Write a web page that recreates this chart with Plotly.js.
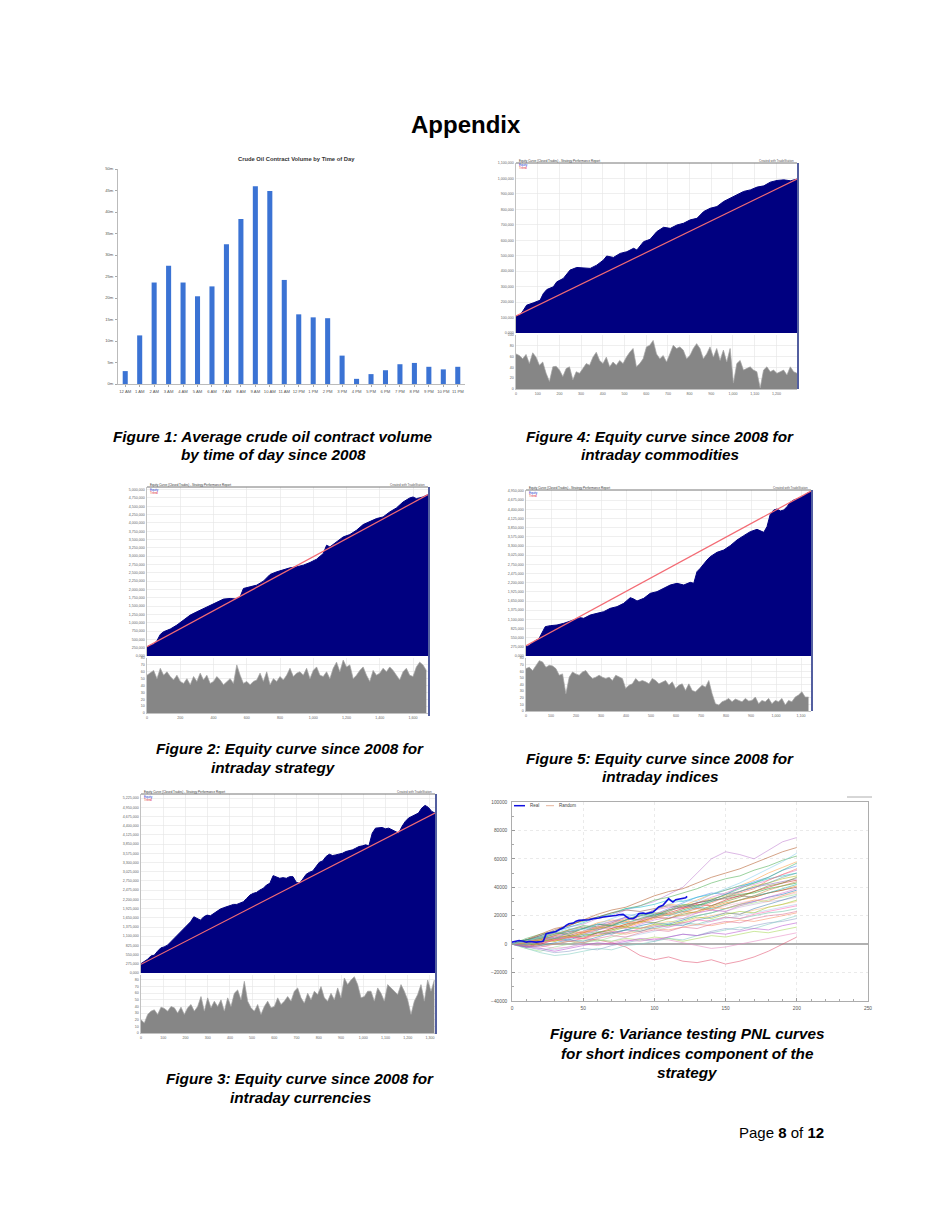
<!DOCTYPE html>
<html><head><meta charset="utf-8">
<script src="https://cdn.plot.ly/plotly-3.0.1.min.js"></script>
<style>html,body{margin:0;padding:0;background:#fff}#page{width:936px;height:1212px}</style>
</head><body><div id="page"></div>
<script>
// ================= DATA =================
// Figure 1
const hourLabels = ['12 AM','1 AM','2 AM','3 AM','4 AM','5 AM','6 AM','7 AM','8 AM','9 AM','10 AM','11 AM','12 PM','1 PM','2 PM','3 PM','4 PM','5 PM','6 PM','7 PM','8 PM','9 PM','10 PM','11 PM'];
const crudeVolume = [3.0,11.3,23.6,27.5,23.6,20.4,22.7,32.5,38.4,46.0,44.9,24.2,16.2,15.5,15.3,6.6,1.2,2.3,3.2,4.6,4.9,4.0,3.4,4.0];
const volumeTickVals = [0,5,10,15,20,25,30,35,40,45,50];
const volumeTickText = ['0m','5m','10m','15m','20m','25m','30m','35m','40m','45m','50m'];

// Figure 4 (commodities) equity, thousands
const commTrade = [0,18,34,49,80,111,126,142,172,188,218,249,280,311,342,372,403,418,449,480,511,542,557,588,618,649,680,711,742,772,803,834,865,895,926,957,988,1018,1049,1080,1111,1142,1172,1203,1234,1265,1295];
const commEquity = [110,115,147,180,195,212,255,281,299,331,353,407,424,422,418,439,472,498,489,515,526,548,537,591,606,656,684,677,699,710,732,742,786,807,818,851,872,894,916,926,944,952,976,987,991,985,996];
const commTrendX = [0,1295];
const commTrendY = [110,996];
const commLower = [65,62,56,64,47,67,59,44,50,29,14,41,42,35,23,38,41,17,32,29,38,47,44,59,68,53,47,59,41,50,44,53,47,59,68,75,41,47,56,78,81,90,65,56,62,50,65,81,75,78,72,56,62,75,84,75,56,65,78,59,75,53,72,50,75,11,47,53,35,38,41,35,32,2,35,41,32,35,29,32,35,26,41,32,29];

// Figure 2 (strategy)
const stratTrade = [0,20,40,60,80,100,140,180,220,260,300,340,380,420,460,500,540,560,580,620,660,700,740,780,820,860,900,940,980,1020,1060,1080,1100,1140,1180,1220,1260,1300,1340,1380,1420,1460,1500,1540,1580,1600,1620,1660,1690];
const stratEquity = [280,310,350,460,650,730,810,930,1080,1230,1330,1430,1530,1630,1710,1730,1710,1780,2030,2080,2130,2250,2450,2530,2600,2650,2680,2730,2810,2910,3080,3330,3280,3430,3580,3650,3780,3950,4030,4130,4180,4330,4450,4630,4750,4780,4730,4780,4850];
const stratTrendX = [0,1690];
const stratTrendY = [280,4850];
const stratLower = [55,58,62,50,65,55,60,53,48,55,46,43,50,41,53,46,58,48,55,43,46,53,48,41,46,50,43,70,55,43,46,41,46,48,58,46,60,41,50,46,53,48,55,65,53,58,60,55,65,50,62,67,55,53,60,50,65,74,60,77,67,70,50,55,62,67,55,46,62,55,58,65,60,67,62,55,48,60,65,55,53,67,74,70,62];

// Figure 5 (indices)
const idxTrade = [0,11,24,37,51,64,77,97,124,151,177,204,217,231,257,284,311,337,364,391,404,417,431,444,471,497,524,551,577,604,631,657,671,684,697,724,737,764,791,817,844,871,897,924,951,964,977,991,1004,1017,1031,1044,1057,1071,1084,1097,1111,1124,1140];
const idxEquity = [280,310,380,460,510,680,880,910,930,980,1050,1130,1150,1130,1230,1280,1330,1430,1480,1580,1680,1750,1710,1650,1730,1880,1930,2030,2130,2180,2130,2210,2180,2530,2630,2880,2980,3110,3180,3310,3480,3610,3730,3800,3710,3880,4250,4380,4410,4350,4380,4480,4610,4680,4710,4750,4810,4880,4930];
const idxTrendX = [0,1140];
const idxTrendY = [310,4950];
const idxLower = [64,66,61,69,76,74,66,69,68,64,54,56,26,51,59,56,54,59,61,54,49,51,54,51,49,51,46,54,51,49,34,39,41,49,44,46,44,41,49,46,41,44,46,39,44,34,39,41,31,41,31,29,34,39,36,46,26,11,9,14,16,19,14,18,16,14,19,15,16,21,11,16,14,19,11,16,14,19,9,16,14,21,24,29,21,21];

// Figure 3 (currencies), evenly sampled over 0..1323 trades
const fxEquity = [280,350,410,510,530,650,750,780,830,930,1030,1130,1230,1350,1430,1530,1680,1630,1580,1680,1730,1710,1780,1830,1910,1950,1980,2030,2050,2050,2080,2130,2230,2330,2380,2410,2480,2530,2630,2680,2910,2880,2830,2850,2830,2880,2880,2710,2680,2810,2950,3010,3050,3180,3310,3350,3480,3550,3510,3530,3550,3580,3630,3650,3680,3730,3780,3800,3830,3800,4180,4330,4350,4350,4310,4330,4280,4230,4180,4380,4530,4630,4680,4710,4780,4930,5010,4950,4830,4780];
const fxTrendX = [0,1323];
const fxTrendY = [260,4780];
const fxLower = [20,15,28,33,35,28,39,37,33,40,38,30,39,28,38,43,33,40,55,33,53,38,48,40,50,33,53,40,60,65,50,78,48,38,33,43,28,40,48,38,40,53,43,48,55,48,63,68,53,45,60,50,63,58,70,53,48,60,50,68,53,83,73,80,85,73,53,55,63,63,48,68,60,48,73,68,63,58,73,63,50,28,48,58,73,48,80,63,80];

// Figure 6 (variance testing)
const realX = [0,3,5,8,10,12,15,17,21,22,24,26,29,31,33,36,38,40,43,45,47,50,52,54,57,59,61,64,66,68,71,73,75,78,80,82,85,87,89,92,94,96,99,101,103,106,107,108,110,112,113,115,118,120,122,123];
const realY = [1400,2100,2600,2100,1400,1900,1400,1400,1900,2100,7300,7800,8500,8900,10100,11500,13200,14300,14800,16200,16700,16700,17200,17200,17900,17900,18400,19100,19500,19500,20000,20200,20700,20900,19500,18100,17900,19100,21400,21900,21400,21900,22600,24200,26100,27300,28500,29600,32000,30300,29600,31300,32000,32700,32700,33600];
const randomX = [0,10,20,30,40,50,60,70,80,90,100,110,120,130,140,150,160,170,180,190,200];
const randomRuns = [
 [0,-2000,1000,3000,2000,4000,3000,1000,-2000,-8000,-11000,-9000,-12000,-13000,-11000,-14000,-12000,-9000,-5000,0,5000],
 [0,3000,6000,9000,12000,14000,18000,20000,24000,27000,30000,35000,40000,50000,60000,65000,63000,60000,66000,72000,75000],
 [0,4000,7000,9000,14000,16000,19000,22000,25000,27000,31000,33000,36000,39000,43000,46000,48000,52000,55000,59000,62000],
 [0,1000,5000,8000,7000,11000,15000,17000,16000,20000,24000,28000,27000,31000,35000,38000,41000,45000,50000,54000,58000],
 [0,3000,2000,6000,10000,12000,11000,15000,19000,22000,21000,25000,29000,33000,36000,35000,40000,44000,47000,52000,55000],
 [0,-1000,2000,5000,8000,11000,14000,13000,17000,20000,24000,26000,25000,29000,33000,36000,40000,42000,45000,49000,52000],
 [0,2000,6000,9000,12000,15000,19000,21000,25000,26000,28000,31000,30000,33000,35000,38000,41000,43000,46000,48000,50000],
 [0,1000,4000,3000,6000,9000,12000,11000,14000,18000,20000,23000,27000,29000,32000,34000,37000,41000,43000,46000,48000],
 [0,3000,5000,8000,6000,9000,13000,16000,19000,17000,20000,24000,26000,29000,31000,35000,37000,40000,42000,44000,46000],
 [0,-2000,0,3000,5000,4000,8000,11000,14000,16000,19000,22000,25000,28000,27000,31000,34000,37000,40000,43000,45000],
 [0,2000,4000,7000,10000,13000,12000,14000,17000,20000,22000,21000,24000,27000,30000,33000,35000,36000,39000,41000,43000],
 [0,1000,3000,2000,5000,8000,10000,13000,12000,15000,18000,21000,23000,22000,26000,29000,31000,33000,36000,38000,41000],
 [0,3000,6000,10000,13000,17000,19000,22000,24000,23000,25000,27000,26000,29000,31000,32000,34000,33000,36000,38000,40000],
 [0,0,2000,4000,3000,6000,8000,7000,10000,13000,15000,14000,17000,20000,22000,25000,28000,30000,33000,35000,38000],
 [0,2000,1000,4000,7000,9000,12000,14000,17000,19000,18000,21000,23000,25000,24000,27000,29000,31000,32000,34000,36000],
 [0,-3000,-5000,-2000,0,3000,2000,5000,8000,10000,13000,15000,18000,20000,22000,25000,27000,29000,31000,33000,35000],
 [0,1000,4000,6000,9000,11000,14000,16000,15000,17000,19000,18000,20000,22000,24000,23000,26000,28000,30000,31000,33000],
 [0,2000,5000,4000,7000,9000,8000,10000,12000,11000,14000,16000,15000,18000,20000,22000,21000,24000,26000,28000,30000],
 [0,-1000,-3000,-4000,-2000,1000,3000,2000,5000,7000,9000,12000,14000,13000,16000,18000,20000,22000,24000,26000,28000],
 [0,1000,3000,5000,4000,7000,9000,8000,10000,12000,11000,13000,15000,14000,17000,19000,18000,20000,22000,23000,25000],
 [0,2000,4000,3000,5000,4000,6000,8000,7000,9000,11000,10000,12000,14000,13000,15000,17000,16000,18000,20000,22000],
 [0,-2000,-4000,-6000,-5000,-3000,-4000,-1000,1000,3000,2000,5000,7000,6000,9000,11000,10000,13000,15000,16000,18000],
 [0,1000,-1000,0,2000,1000,3000,2000,4000,3000,5000,4000,2000,4000,6000,5000,7000,9000,8000,10000,12000],
 [0,-2000,-1000,-3000,-2000,0,-1000,1000,3000,2000,4000,3000,1000,-1000,-3000,-2000,0,2000,4000,6000,8000],
 [0,3000,7000,11000,13000,17000,21000,24000,26000,30000,34000,37000,39000,43000,47000,50000,53000,57000,61000,65000,68000],
 [0,-3000,-6000,-8000,-7000,-5000,-3000,-4000,-1000,0,2000,4000,3000,6000,8000,10000,12000,11000,14000,17000,20000],
 [0,2000,3000,6000,9000,8000,12000,15000,18000,17000,21000,24000,26000,25000,29000,33000,36000,39000,45000,49000,53000],
 [0,-1000,1000,4000,6000,5000,8000,10000,13000,16000,15000,18000,21000,23000,27000,30000,33000,37000,41000,43000,47000],
 [0,3000,4000,7000,9000,11000,10000,13000,15000,18000,21000,20000,23000,26000,25000,28000,31000,34000,36000,39000,42000],
 [0,1000,2000,5000,4000,7000,10000,12000,11000,14000,17000,19000,18000,22000,24000,23000,27000,30000,33000,36000,39000],
 [0,2000,5000,7000,10000,12000,11000,14000,16000,15000,19000,21000,20000,23000,26000,25000,28000,31000,30000,34000,37000],
 [0,-2000,-1000,1000,3000,2000,5000,8000,10000,9000,12000,14000,13000,17000,19000,22000,21000,25000,28000,31000,34000],
 [0,1000,3000,2000,5000,7000,6000,9000,12000,11000,14000,13000,16000,19000,18000,21000,23000,22000,26000,28000,31000],
 [0,2000,1000,3000,5000,4000,7000,9000,8000,11000,13000,12000,15000,17000,16000,19000,18000,21000,23000,25000,27000],
 [0,1000,3000,6000,5000,8000,11000,13000,12000,16000,19000,18000,22000,25000,24000,28000,31000,34000,38000,41000,44000],
 [0,2000,5000,4000,8000,11000,14000,13000,17000,20000,19000,23000,27000,26000,30000,33000,37000,40000,43000,47000,50000],
 [0,-1000,-2000,0,2000,1000,4000,6000,5000,8000,10000,9000,12000,11000,14000,16000,15000,18000,20000,21000,23000],
 [0,3000,5000,8000,7000,11000,14000,13000,17000,21000,20000,24000,28000,27000,31000,35000,39000,43000,47000,52000,57000],
 [0,-2000,-3000,-5000,-3000,-1000,1000,0,2000,4000,3000,5000,7000,6000,8000,7000,9000,11000,10000,13000,15000],
 [0,2000,5000,8000,11000,10000,14000,18000,21000,20000,24000,28000,31000,30000,35000,39000,43000,48000,53000,58000,64000]
];
const randomColors = ['#e05070','#c080d0','#4caf50','#ff9f40','#5b8def','#e377c2','#17becf','#bcbd22','#9467bd','#d62728','#2ca02c','#ff7f0e','#8c564b','#1f77b4','#f7b6d2','#98df8a','#c5b0d5','#ffbb78','#aec7e8','#66c2a5','#fc8d62','#8da0cb','#a6d854','#e78ac3','#b15928','#80cdc1','#ff6f61','#6b8e23','#20b2aa','#da70d6','#f4a460','#4682b4','#9acd32','#ff69b4','#cd853f','#5f9ea0','#db7093','#3cb371','#ba55d3','#87ceeb'];

// ================= HELPERS (layout) =================
const W = 936, H = 1212;
const xd = (a, b) => [a / W, b / W];
const yd = (top, bottom) => [1 - bottom / H, 1 - top / H];
const px = x => x / W, py = y => 1 - y / H;
const spread = (n, max) => Array.from({length: n}, (_, i) => i * max / (n - 1));

const FONT = 'Liberation Sans, Arial, sans-serif';
const NAVY = '#000080';
const TREND = '#f36b74';
const GRID = '#e4e4e4';

const traces = [];

// Figure 1
traces.push({type: 'bar', x: hourLabels, y: crudeVolume, xaxis: 'x', yaxis: 'y',
  marker: {color: '#3b73d4'}, showlegend: false, hoverinfo: 'skip'});

function equityPanel(xa, ya, yb, ex, ey, tx, ty, low, lowSpan) {
  traces.push({type: 'scatter', mode: 'lines', x: ex, y: ey, xaxis: xa, yaxis: ya,
    fill: 'tozeroy', fillcolor: NAVY, line: {color: NAVY, width: 1}, showlegend: false, hoverinfo: 'skip'});
  traces.push({type: 'scatter', mode: 'lines', x: tx, y: ty, xaxis: xa, yaxis: ya,
    line: {color: TREND, width: 1.2}, showlegend: false, hoverinfo: 'skip'});
  traces.push({type: 'scatter', mode: 'lines', x: spread(low.length, lowSpan), y: low, xaxis: xa, yaxis: yb,
    fill: 'tozeroy', fillcolor: '#868686', line: {color: '#a4a4a4', width: 0.7}, showlegend: false, hoverinfo: 'skip'});
}
equityPanel('x2', 'y2', 'y3', commTrade, commEquity, commTrendX, commTrendY, commLower, 1295);
equityPanel('x3', 'y4', 'y5', stratTrade, stratEquity, stratTrendX, stratTrendY, stratLower, 1680);
equityPanel('x4', 'y6', 'y7', idxTrade, idxEquity, idxTrendX, idxTrendY, idxLower, 1130);
equityPanel('x5', 'y8', 'y9', spread(fxEquity.length, 1323), fxEquity, fxTrendX, fxTrendY, fxLower, 1320);

// Figure 6
randomRuns.forEach((run, i) => {
  traces.push({type: 'scatter', mode: 'lines', x: randomX, y: run, xaxis: 'x6', yaxis: 'y10',
    line: {color: randomColors[i % randomColors.length], width: 0.8}, opacity: 0.7,
    name: 'Random', showlegend: false, hoverinfo: 'skip'});
});
traces.push({type: 'scatter', mode: 'lines', x: realX, y: realY, xaxis: 'x6', yaxis: 'y10',
  line: {color: '#1010e0', width: 1.6}, name: 'Real', showlegend: false, hoverinfo: 'skip'});

// ================= AXES =================
const tiny = {size: 3.6, color: '#666', family: FONT};
function eqX(dom, anchor, range, dtick) {
  return {domain: dom, anchor: anchor, range: range, dtick: dtick, tickfont: tiny, tickformat: ',',
    showgrid: true, gridcolor: GRID, gridwidth: 0.6, zeroline: false, showline: true, linecolor: '#999', linewidth: 0.6, ticks: '', ticklabelstandoff: 1};
}
function eqY(dom, anchor, range, dtick, suffix) {
  return {domain: dom, anchor: anchor, range: range, dtick: dtick, tickfont: tiny, tickformat: ',', ticksuffix: suffix || '',
    showgrid: true, gridcolor: GRID, gridwidth: 0.6, zeroline: false, showline: true, linecolor: '#999', linewidth: 0.6, ticks: '', ticklabelstandoff: 1};
}

const layout = {
  width: W, height: H, margin: {l: 0, r: 0, t: 0, b: 0}, paper_bgcolor: '#fff', plot_bgcolor: '#fff',
  font: {family: FONT}, bargap: 0.65, showlegend: false,
  // Figure 1
  xaxis: {domain: xd(118, 465), anchor: 'y', type: 'category', tickfont: {size: 4.2, color: '#555', family: FONT},
    showline: true, linecolor: '#aaa', linewidth: 0.8, ticks: 'outside', ticklen: 2, tickcolor: '#aaa', showgrid: false, tickangle: 0, ticklabelstandoff: 1},
  yaxis: {domain: yd(169, 384), anchor: 'x', range: [0, 50], tickvals: volumeTickVals, ticktext: volumeTickText,
    tickfont: {size: 4.2, color: '#555', family: FONT}, showline: true, linecolor: '#aaa', linewidth: 0.8, ticks: 'outside', ticklen: 2, tickcolor: '#aaa', showgrid: false, zeroline: false, ticklabelstandoff: 1},
  // Figure 4
  xaxis2: eqX(xd(516, 797), 'y3', [0, 1295], 100),
  yaxis2: eqY(yd(163, 333), 'x2', [0, 1100], 100, ',000'),
  yaxis3: eqY(yd(335, 389), 'x2', [0, 100], 20),
  // Figure 2
  xaxis3: eqX(xd(147, 428), 'y5', [0, 1690], 200),
  yaxis4: eqY(yd(487, 656), 'x3', [0, 5080], 250, ',000'),
  yaxis5: eqY(yd(658, 713), 'x3', [0, 80], 10),
  // Figure 5
  xaxis4: eqX(xd(526, 811), 'y7', [0, 1140], 100),
  yaxis6: eqY(yd(490, 656), 'x4', [0, 4980], 275, ',000'),
  yaxis7: eqY(yd(658, 711), 'x4', [0, 80], 10),
  // Figure 3
  xaxis5: eqX(xd(141, 435), 'y9', [0, 1323], 100),
  yaxis8: eqY(yd(794, 973), 'x5', [0, 5350], 275, ',000'),
  yaxis9: eqY(yd(975, 1033), 'x5', [0, 87.5], 10),
  // Figure 6
  xaxis6: {domain: xd(512, 868), anchor: 'y10', range: [0, 250], dtick: 50, tickfont: {size: 4.8, color: '#555', family: FONT},
    showgrid: true, gridcolor: '#dcdcdc', griddash: 'dot', gridwidth: 0.6, zeroline: false, showline: true, mirror: true, linecolor: '#999', linewidth: 0.8,
    ticks: 'inside', ticklen: 3, tickcolor: '#999', minor: {ticks: 'inside', ticklen: 2, dtick: 10, tickcolor: '#aaa', showgrid: false}, ticklabelstandoff: 2},
  yaxis10: {domain: yd(802, 1001), anchor: 'x6', range: [-40000, 100000], dtick: 20000, tickformat: 'd', tickfont: {size: 4.8, color: '#555', family: FONT},
    showgrid: true, gridcolor: '#dcdcdc', griddash: 'dot', gridwidth: 0.6, zeroline: true, zerolinecolor: '#b0b0b0', zerolinewidth: 2,
    showline: true, mirror: true, linecolor: '#999', linewidth: 0.8, ticks: 'inside', ticklen: 3, tickcolor: '#999',
    minor: {ticks: 'inside', ticklen: 2, dtick: 10000, tickcolor: '#aaa', showgrid: false}, ticklabelstandoff: 3},
  shapes: [],
  annotations: []
};

// decorative frame lines for equity-chart images
function frame(l, r, top, bottom) {
  layout.shapes.push({type: 'line', xref: 'paper', yref: 'paper', x0: px(l), x1: px(r), y0: py(top), y1: py(top), line: {color: '#777', width: 1}});
  layout.shapes.push({type: 'line', xref: 'paper', yref: 'paper', x0: px(r + 1), x1: px(r + 1), y0: py(top), y1: py(bottom), line: {color: '#1a2a80', width: 1.5}});
}
frame(516, 797, 163, 389);
frame(147, 428, 487, 716);
frame(526, 811, 490, 711);
frame(141, 435, 794, 1034);
layout.shapes.push({type: 'line', xref: 'paper', yref: 'paper', x0: px(847), x1: px(872), y0: py(797), y1: py(797), line: {color: '#999', width: 0.8}});
// Figure 6 legend samples
layout.shapes.push({type: 'line', xref: 'paper', yref: 'paper', x0: px(514), x1: px(525), y0: py(805.7), y1: py(805.7), line: {color: '#1010e0', width: 1.5}});
layout.shapes.push({type: 'line', xref: 'paper', yref: 'paper', x0: px(546), x1: px(554), y0: py(805.7), y1: py(805.7), line: {color: '#e0a080', width: 0.8}});

function ann(text, x, y, size, opts) {
  layout.annotations.push(Object.assign({text: text, x: px(x), y: py(y), xref: 'paper', yref: 'paper', showarrow: false,
    xanchor: 'center', yanchor: 'middle', font: {size: size, color: '#000', family: FONT}}, opts || {}));
}
function header(l, r, top) {
  ann('Equity Curve (Closed Trades) - Strategy Performance Report', l + 1, top - 2, 3, {xanchor: 'left', font: {size: 3, color: '#333', family: FONT}});
  ann('Created with TradeStation', r - 1, top - 2, 3, {xanchor: 'right', font: {size: 3, color: '#555', family: FONT}});
  ann('Equity', l + 1, top + 2.5, 3, {xanchor: 'left', font: {size: 3, color: '#2233cc', family: FONT}});
  ann('Trend', l + 1, top + 5.5, 3, {xanchor: 'left', font: {size: 3, color: '#dd2233', family: FONT}});
}
header(516, 797, 163);
header(147, 428, 487);
header(526, 811, 490);
header(141, 435, 794);

ann('Real', 528, 805.7, 4.5, {xanchor: 'left', font: {size: 4.5, color: '#444', family: FONT}});
ann('Random', 557, 805.7, 4.5, {xanchor: 'left', font: {size: 4.5, color: '#444', family: FONT}});

ann('<b>Appendix</b>', 466, 124, 24);
ann('<b>Crude Oil Contract Volume by Time of Day</b>', 296, 159, 5.8, {font: {size: 5.8, color: '#333', family: FONT}});

const cap = 15.3;
ann('<b><i>Figure 1: Average crude oil contract volume</i></b>', 273, 436, cap);
ann('<b><i>by time of day since 2008</i></b>', 273, 455, cap);
ann('<b><i>Figure 4: Equity curve since 2008 for</i></b>', 660, 437, cap);
ann('<b><i>intraday commodities</i></b>', 660, 455, cap);
ann('<b><i>Figure 2: Equity curve since 2008 for</i></b>', 290, 748, cap);
ann('<b><i>intraday strategy</i></b>', 273, 767, cap);
ann('<b><i>Figure 5: Equity curve since 2008 for</i></b>', 660, 758, cap);
ann('<b><i>intraday indices</i></b>', 660, 776, cap);
ann('<b><i>Figure 3: Equity curve since 2008 for</i></b>', 300, 1078, cap);
ann('<b><i>intraday currencies</i></b>', 300, 1097, cap);
ann('<b><i>Figure 6: Variance testing PNL curves</i></b>', 687, 1033, cap);
ann('<b><i>for short indices component of the</i></b>', 687, 1053, cap);
ann('<b><i>strategy</i></b>', 687, 1072, cap);
ann('Page <b>8</b> of <b>12</b>', 826, 1132, 15, {xanchor: 'right'});

Plotly.newPlot('page', traces, layout, {staticPlot: true, displayModeBar: false});
</script>
</body></html>
